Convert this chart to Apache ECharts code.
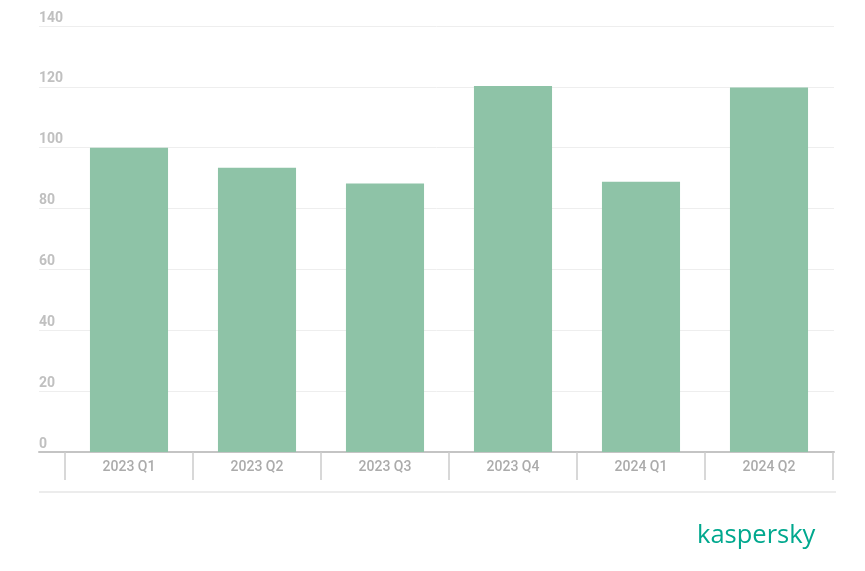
<!DOCTYPE html>
<html>
<head>
<meta charset="utf-8">
<script src="https://cdn.jsdelivr.net/npm/echarts@6/dist/echarts.min.js"></script>
<style>
  html, body { margin: 0; padding: 0; background: #fff; }
  #chart { width: 865px; height: 571px; }
</style>
</head>
<body>
<div id="chart"></div>
<script>
var categories = ['2023 Q1', '2023 Q2', '2023 Q3', '2023 Q4', '2024 Q1', '2024 Q2'];
var values = [100, 93.4, 88.2, 120.3, 88.8, 119.8];
var yTicks = [0, 20, 40, 60, 80, 100, 120, 140];

var myChart = echarts.init(document.getElementById('chart'));
var option = {
  animation: false,
  grid: [
    { left: 39, right: 31, top: 26, bottom: 119 },
    { left: 65, right: 32, top: 26, bottom: 119 }
  ],
  xAxis: [
    {
      gridIndex: 0, type: 'value', min: 0, max: 1,
      axisLine: { show: true, lineStyle: { color: '#c4c4c4', width: 2 } },
      axisTick: { show: false }, axisLabel: { show: false }, splitLine: { show: false }
    },
    {
      gridIndex: 1, type: 'category', data: categories,
      axisLine: { show: false },
      axisTick: { show: true, length: 28, lineStyle: { color: '#cccccc', width: 1.5 } },
      axisLabel: { margin: 8, color: '#ababab', fontSize: 14, fontWeight: 500, fontFamily: 'Roboto' }
    }
  ],
  yAxis: [
    {
      gridIndex: 0, type: 'value', min: yTicks[0], max: yTicks[yTicks.length - 1], interval: 20,
      axisLine: { show: false }, axisTick: { show: false },
      axisLabel: {
        inside: true, margin: 0, color: '#c0c0c0', fontSize: 14, fontWeight: 'bold',
        fontFamily: 'Roboto', verticalAlign: 'bottom', lineHeight: 14, padding: [0, 0, 1, 0]
      },
      splitLine: { show: true, lineStyle: { color: '#eeeeee', width: 1 } }
    },
    {
      gridIndex: 1, type: 'value', min: yTicks[0], max: yTicks[yTicks.length - 1],
      show: false
    }
  ],
  series: [{
    type: 'bar',
    xAxisIndex: 1, yAxisIndex: 1,
    data: values,
    barWidth: '61%',
    itemStyle: { color: '#8ec3a7' }
  }],
  graphic: [
    {
      type: 'rect', left: 39, top: 491,
      shape: { width: 797, height: 2 },
      style: { fill: '#ececec' }
    },
    {
      type: 'text', left: 697, top: 523,
      style: { text: 'kaspersky', fill: '#00a88e', font: '500 25.5px "Open Sans"' }
    }
  ]
};
myChart.setOption(option);
</script>
</body>
</html>
